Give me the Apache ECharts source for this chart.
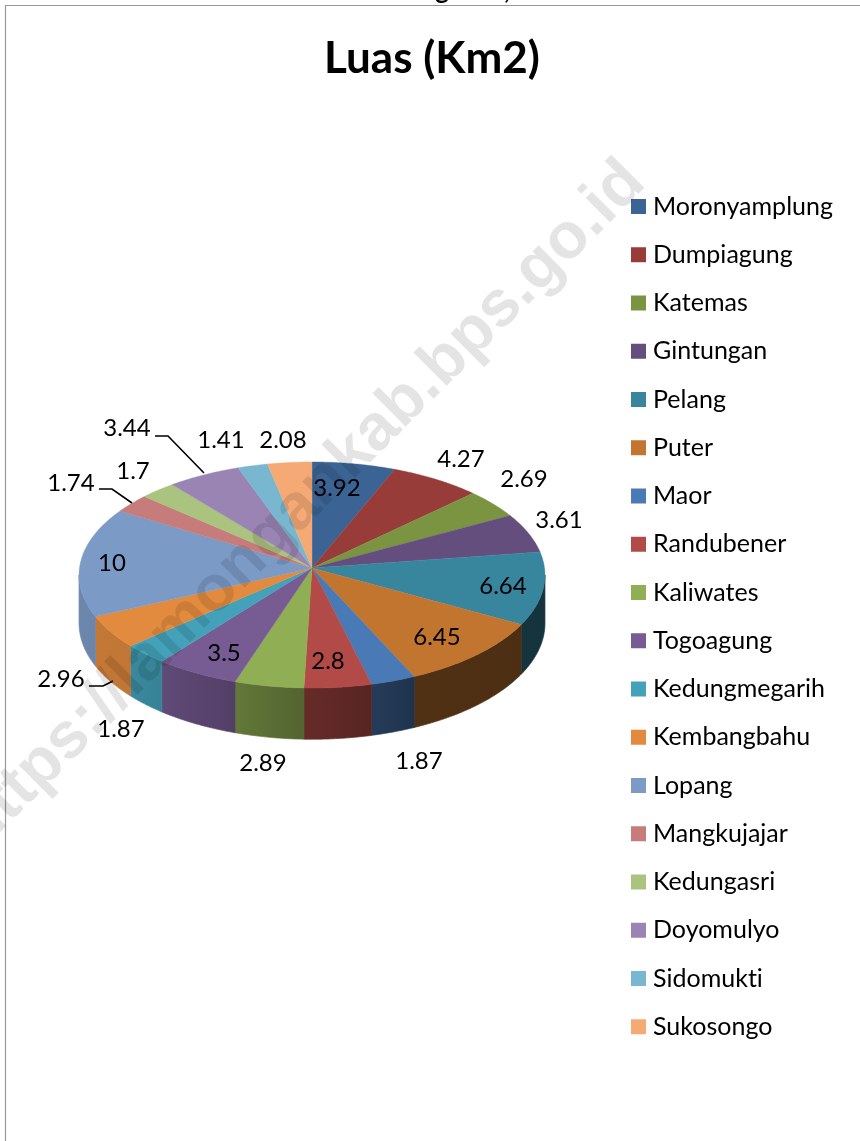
<!DOCTYPE html>
<html>
<head>
<meta charset="utf-8">
<title>Luas (Km2)</title>
<script src="https://cdn.jsdelivr.net/npm/echarts@6/dist/echarts.min.js"></script>
<style>
	html, body { margin: 0; padding: 0; background: #fff; }
	#main { width: 860px; height: 1141px; }
</style>
</head>
<body>
<div id="main"></div>
<script>
const categories = ["Moronyamplung", "Dumpiagung", "Katemas", "Gintungan", "Pelang", "Puter", "Maor", "Randubener", "Kaliwates", "Togoagung", "Kedungmegarih", "Kembangbahu", "Lopang", "Mangkujajar", "Kedungasri", "Doyomulyo", "Sidomukti", "Sukosongo"];
const values = [3.92, 4.27, 2.69, 3.61, 6.64, 6.45, 1.87, 2.8, 2.89, 3.5, 1.87, 2.96, 10, 1.74, 1.7, 3.44, 1.41, 2.08];
const colors = ["#3b6495", "#983c3a", "#7a9442", "#644e7e", "#38859e", "#c2752f", "#4a7ab5", "#b24a47", "#90ae53", "#775c94", "#43a1ba", "#e28b3f", "#7c9ac6", "#c67c7b", "#aac37f", "#9a84b4", "#78b7cf", "#f5a975"];
// centre of each data label, placed by hand like the original
const labelCenters = [[337, 488], [461, 459], [524, 479], [559, 520], [503, 586], [437, 637], [419, 761], [328, 661], [263, 763], [224, 653], [121, 729], [61, 679], [112, 563], [71, 483], [133, 471], [127, 428], [221, 440], [283, 440]];
const leaderLines = {
	11: [[89, 686], [103, 686], [113, 681]],
	13: [[99, 489], [112, 489], [132, 503]],
	15: [[155, 436], [168, 436], [204, 473]],
};
// side wall brightness from the left edge to the right edge
const sideShade = [[79, 0.87], [130, 0.85], [200, 0.76], [240, 0.68], [300, 0.58], [370, 0.5], [400, 0.42], [500, 0.4], [544, 0.38]];

const FONT = "Lato";
const total = values.reduce((a, b) => a + b, 0);

// tilted disc: circle seen through a slight perspective
const pie = { x: 312, y: 568, rx: 232.5, ry: 112.6, k: 0.062, depth: 48 };

function rimPoint(angle, drop) {
	const u = Math.sin(angle);
	const v = -Math.cos(angle);
	const w = 1 - pie.k * v;
	return [pie.x + (pie.rx * u) / w, pie.y + (pie.ry * v) / w + (drop ? pie.depth / w : 0)];
}

function arcAngles(a0, a1) {
	const out = [];
	const n = Math.max(2, Math.ceil((a1 - a0) / 0.01));
	for (let i = 0; i <= n; i++) out.push(a0 + ((a1 - a0) * i) / n);
	return out;
}

function shadeAt(x) {
	for (let i = 1; i < sideShade.length; i++) {
		if (x <= sideShade[i][0]) {
			const p = sideShade[i - 1];
			const q = sideShade[i];
			return p[1] + ((q[1] - p[1]) * (x - p[0])) / (q[0] - p[0]);
		}
	}
	return sideShade[sideShade.length - 1][1];
}

function shadeColor(hex, f) {
	const n = parseInt(hex.slice(1), 16);
	const r = Math.round(((n >> 16) & 255) * f);
	const g = Math.round(((n >> 8) & 255) * f);
	const b = Math.round((n & 255) * f);
	return `rgb(${r},${g},${b})`;
}

function renderSlice(index, params, api) {
	const start = (api.value(0) / total) * Math.PI * 2;
	const end = start + (api.value(1) / total) * Math.PI * 2;
	const children = [];

	// side wall, only the part of the rim facing the viewer
	const sideFrom = Math.PI / 2 + Math.asin(pie.k);
	const sideTo = Math.PI * 1.5 - Math.asin(pie.k);
	const a0 = Math.max(start, sideFrom);
	const a1 = Math.min(end, sideTo);
	if (a1 > a0) {
		const angles = arcAngles(a0, a1);
		const upper = angles.map((a) => rimPoint(a, false));
		const lower = angles.map((a) => rimPoint(a, true)).reverse();
		const x0 = Math.min(upper[0][0], upper[upper.length - 1][0]);
		const x1 = Math.max(upper[0][0], upper[upper.length - 1][0]);
		const fill = new echarts.graphic.LinearGradient(x0, 0, x1, 0, [
			{ offset: 0, color: shadeColor(colors[index], shadeAt(x0)) },
			{ offset: 1, color: shadeColor(colors[index], shadeAt(x1)) },
		], true);
		children.push({
			type: "polygon",
			shape: { points: upper.concat(lower) },
			style: { fill: fill, stroke: fill, lineWidth: 0.4 },
		});
	}

	// top face
	const top = [[pie.x, pie.y]].concat(arcAngles(start, end).map((a) => rimPoint(a, false)));
	children.push({
		type: "polygon",
		z2: 1,
		shape: { points: top },
		style: { fill: colors[index], stroke: colors[index], lineWidth: 0.4 },
	});

	if (leaderLines[index]) {
		children.push({
			type: "polyline",
			z2: 2,
			shape: { points: leaderLines[index] },
			style: { fill: null, stroke: "#000", lineWidth: 1.6 },
		});
	}

	children.push({
		type: "text",
		z2: 3,
		x: labelCenters[index][0],
		y: labelCenters[index][1],
		style: {
			text: String(values[index]),
			fontFamily: FONT,
			fontSize: 24,
			fill: "#000",
			align: "center",
			verticalAlign: "middle",
		},
	});

	return { type: "group", children: children };
}

let running = 0;
const series = categories.map((name, i) => {
	const from = running;
	running += values[i];
	return {
		name: name,
		type: "custom",
		coordinateSystem: "none",
		animation: false,
		silent: true,
		itemStyle: { color: colors[i] },
		data: [[from, values[i]]],
		renderItem: (params, api) => renderSlice(i, params, api),
	};
});

const chart = echarts.init(document.getElementById("main"), null, { renderer: "canvas" });

const option = {
	animation: false,
	backgroundColor: "#fff",
	title: {
		text: "Luas (Km2)",
		left: 427,
		top: 32,
		textAlign: "center",
		textStyle: { fontFamily: FONT, fontSize: 44, fontWeight: "bold", color: "#000" },
	},
	legend: {
		orient: "vertical",
		left: 631,
		top: 194,
		padding: 0,
		icon: "rect",
		itemWidth: 15,
		itemHeight: 15,
		itemGap: 23.25,
		selectedMode: false,
		data: categories,
		textStyle: { fontFamily: FONT, fontSize: 25, lineHeight: 25, color: "#000", padding: [0, 0, 0, 2] },
	},
	graphic: [
		{
			type: "polyline",
			silent: true,
			shape: { points: [[5.5, 1141], [5.5, 5.5], [860, 5.5]] },
			style: { fill: null, stroke: "#999", lineWidth: 1.2 },
		},
		// what is left of the line above the chart, cut off by the page edge
		{
			type: "text",
			silent: true,
			x: 442,
			y: 4,
			style: { text: "g", fontFamily: FONT, fontSize: 26, fontWeight: "bold", fill: "#000", align: "center", verticalAlign: "bottom" },
		},
		{
			type: "text",
			silent: true,
			x: 507,
			y: 4,
			style: { text: ",", fontFamily: FONT, fontSize: 26, fontWeight: "bold", fill: "#000", align: "center", verticalAlign: "bottom" },
		},
		{
			type: "text",
			silent: true,
			z: 100,
			x: 658,
			y: 195,
			rotation: Math.PI / 4,
			style: {
				text: "https://lamongankab.bps.go.id",
				fontFamily: "Liberation Sans",
				fontSize: 65,
				fontWeight: "bold",
				fill: "rgba(0,0,0,0.105)",
				align: "right",
				verticalAlign: "bottom",
			},
		},
	],
	series: series,
};

chart.setOption(option);
// no "ti" ligature in Lato, the original font does not join them
chart.getDom().querySelector("canvas").getContext("2d").letterSpacing = "0.01px";
chart.setOption(option, true);
</script>
</body>
</html>
